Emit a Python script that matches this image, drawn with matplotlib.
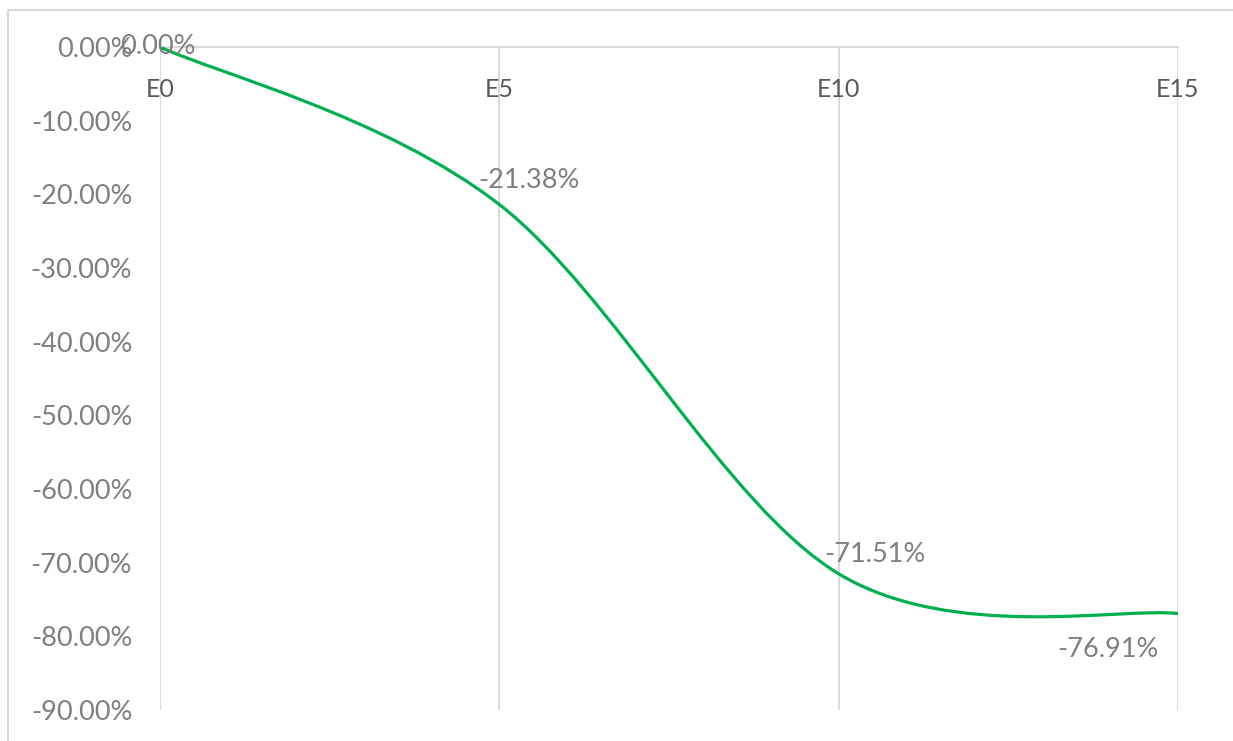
import matplotlib
matplotlib.use("Agg")
import matplotlib.pyplot as plt
from matplotlib.path import Path
from matplotlib.patches import PathPatch
from matplotlib.lines import Line2D
from matplotlib.ticker import FuncFormatter

# data
steps = [0, 5, 10, 15]
labels = ["E0", "E5", "E10", "E15"]
values = [0.0, -21.38, -71.51, -76.91]

# label offsets in pixels (dx, dy) for each data label
label_offsets = [(-2, 0), (30, 24), (36, 19), (-70, -36)]

plt.rcParams['font.family'] = ['Lato', 'DejaVu Sans']

W, H = 1233, 741
fig = plt.figure(figsize=(W / 100, H / 100), dpi=100)
ax = fig.add_axes([160 / W, 1 - 710 / H, (1178 - 160) / W, (710 - 47) / H])

grid_c = "#d9d9d9"
green = "#00b050"

# smoothed line like excel (bezier through the points)
pts = list(zip(steps, values))
n = len(pts)
verts = [pts[0]]
codes = [Path.MOVETO]
for i in range(n - 1):
    p0 = pts[max(i - 1, 0)]
    p1 = pts[i]
    p2 = pts[i + 1]
    p3 = pts[min(i + 2, n - 1)]
    c1 = (p1[0] + (p2[0] - p0[0]) / 6, p1[1] + (p2[1] - p0[1]) / 6)
    c2 = (p2[0] - (p3[0] - p1[0]) / 6, p2[1] - (p3[1] - p1[1]) / 6)
    verts += [c1, c2, p2]
    codes += [Path.CURVE4] * 3
ax.add_patch(PathPatch(Path(verts, codes), fill=False, edgecolor=green,
                       lw=2.3, capstyle='round', joinstyle='round', zorder=3))

for (x, y), (dx, dy) in zip(pts, label_offsets):
    ax.annotate(f"{y:.2f}%", (x, y), xytext=(dx * 0.72, dy * 0.72),
                textcoords='offset points', ha='center', va='center',
                fontsize=19.5, color="#7f7f7f", zorder=4)

ax.set_xlim(0, 15)
ax.set_ylim(-90, 0)
ax.set_yticks(range(-90, 1, 10))
ax.yaxis.set_major_formatter(FuncFormatter(lambda v, p: f"{v:.2f}%"))
ax.set_xticks(steps)
ax.set_xticklabels(labels)

ax.grid(axis='x', color=grid_c, lw=1.4)
ax.set_axisbelow(True)
for s in ['left', 'right', 'bottom']:
    ax.spines[s].set_visible(False)
ax.spines['top'].set_color(grid_c)
ax.spines['top'].set_linewidth(1.4)

ax.tick_params(axis='y', length=0, pad=20, labelsize=19.5, labelcolor="#7f7f7f")
ax.tick_params(axis='x', length=0, top=True, labeltop=True, bottom=False,
               labelbottom=False, pad=-22, labelsize=18, labelcolor="#595959")
for t in ax.get_xticklabels():
    t.set_va('top')

# outer chart border
fig.add_artist(Line2D([8 / W, 8 / W, 1], [0, 1 - 10 / H, 1 - 10 / H],
                      color=grid_c, lw=1.5))

fig.savefig("out.png", dpi=100, facecolor="white")
